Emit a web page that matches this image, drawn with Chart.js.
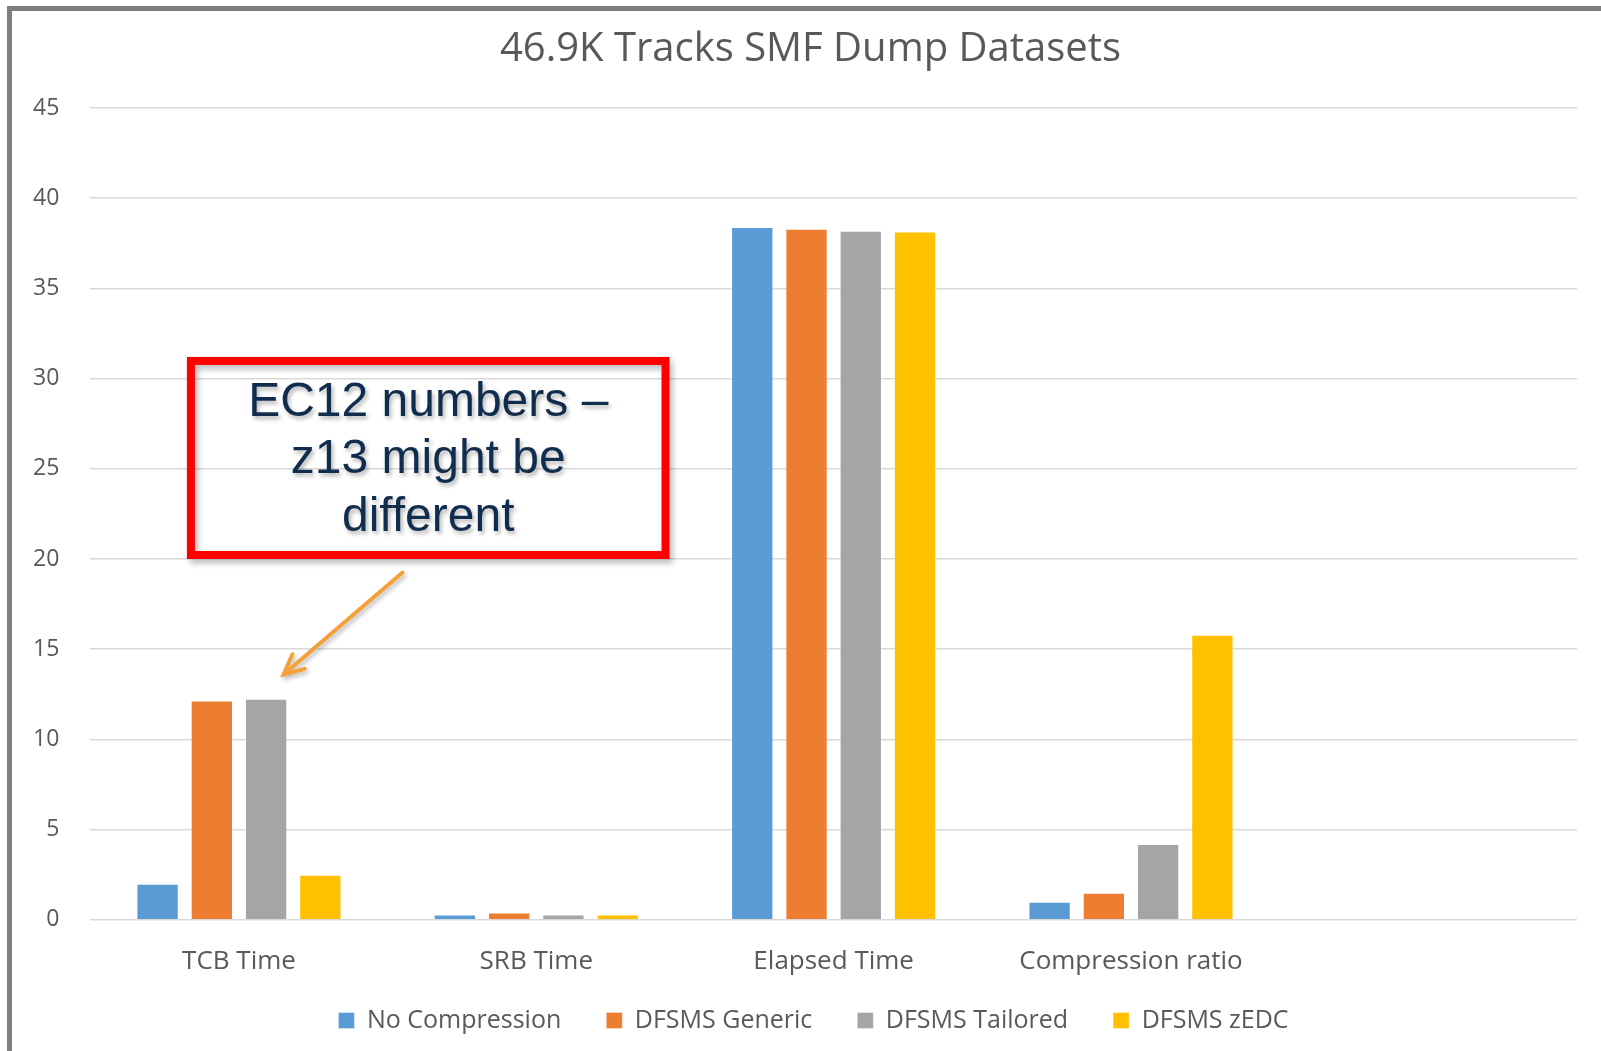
<!DOCTYPE html>
<html>
<head>
<meta charset="utf-8">
<script src="https://cdn.jsdelivr.net/npm/chart.js@4.4.1/dist/chart.umd.min.js"></script>
<style>
  html, body { margin: 0; padding: 0; background: #fff; }
  #wrap { position: relative; width: 1601px; height: 1051px; }
  #frame { position: absolute; left: 7px; top: 6px; right: 0; bottom: 0;
           border-left: 5px solid #7f7f7f; border-top: 5px solid #7f7f7f; pointer-events: none; }
</style>
</head>
<body>
<div id="wrap">
  <canvas id="chart" width="1601" height="1051"></canvas>
  <div id="frame"></div>
</div>
<script>
// categories (last one is an empty slot, like the source chart)
const categories = ['TCB Time', 'SRB Time', 'Elapsed Time', 'Compression ratio', ''];

// series values
const noCompression = [2.0, 0.3, 38.4, 1.0, null];
const dfsmsGeneric  = [12.15, 0.4, 38.3, 1.5, null];
const dfsmsTailored = [12.25, 0.3, 38.2, 4.2, null];
const dfsmsZedc     = [2.5, 0.3, 38.15, 15.8, null];

const seriesNames = ['No Compression', 'DFSMS Generic', 'DFSMS Tailored', 'DFSMS zEDC'];
const seriesColors = ['#5b9bd5', '#ed7d31', '#a5a5a5', '#ffc000'];

const noteLines = ['EC12 numbers \u2013', 'z13 might be', 'different'];

const textGray = '#595959';
const xLabelOverlap = 32;

// title and legend sit a little right of the canvas centre in the original;
// x labels overlap the legend's top padding, so give the axis its room back for drawing
const nudge = {
    id: 'nudge',
    afterLayout(chart) {
        if (chart.titleBlock) { chart.titleBlock.left += 21; chart.titleBlock.right += 21; }
        if (chart.legend) { chart.legend.left += 24; chart.legend.right += 24; }
        const xs = chart.scales.x;
        xs.bottom += xLabelOverlap;
        xs.height += xLabelOverlap;
    }
};

// draws the red note box + orange arrow, placed from the scales
const callout = {
    id: 'callout',
    afterDraw(chart) {
        const { ctx, scales: { x, y } } = chart;
        const step = x.getPixelForValue(1) - x.getPixelForValue(0);
        const px = v => x.getPixelForValue(0) + v * step;

        const left = px(-0.175), right = px(1.448);
        const top = y.getPixelForValue(31.2), bottom = y.getPixelForValue(20.0);

        ctx.save();
        // box with a soft shadow
        ctx.shadowColor = 'rgba(0,0,0,0.28)';
        ctx.shadowBlur = 6;
        ctx.shadowOffsetX = 3;
        ctx.shadowOffsetY = 4;
        ctx.strokeStyle = '#ff0000';
        ctx.lineWidth = 8;
        ctx.strokeRect(left + 4, top + 4, right - left - 8, bottom - top - 8);

        // text
        ctx.shadowColor = 'rgba(0,0,0,0.3)';
        ctx.shadowBlur = 4;
        ctx.shadowOffsetX = 2;
        ctx.shadowOffsetY = 3;
        ctx.fillStyle = '#112d4e';
        ctx.font = '48px "Liberation Sans", Arial, sans-serif';
        ctx.textAlign = 'center';
        ctx.textBaseline = 'alphabetic';
        const cx = (left + right) / 2;
        const baselines = [27.9, 24.75, 21.55];
        noteLines.forEach((t, i) => ctx.fillText(t, cx, y.getPixelForValue(baselines[i])));

        // arrow
        const x1 = px(0.55), y1 = y.getPixelForValue(19.25);
        const x2 = px(0.15), y2 = y.getPixelForValue(13.6);
        ctx.shadowColor = 'rgba(0,0,0,0.25)';
        ctx.shadowBlur = 4;
        ctx.shadowOffsetX = 2;
        ctx.shadowOffsetY = 3;
        ctx.strokeStyle = '#f4a13a';
        ctx.lineWidth = 4;
        ctx.lineCap = 'round';
        ctx.beginPath();
        ctx.moveTo(x1, y1);
        ctx.lineTo(x2, y2);
        const ang = Math.atan2(y2 - y1, x2 - x1);
        const head = 22;
        ctx.moveTo(x2 + head * Math.cos(ang + Math.PI - 0.45), y2 + head * Math.sin(ang + Math.PI - 0.45));
        ctx.lineTo(x2, y2);
        ctx.lineTo(x2 + head * Math.cos(ang + Math.PI + 0.45), y2 + head * Math.sin(ang + Math.PI + 0.45));
        ctx.stroke();
        ctx.restore();
    }
};

const seriesData = [noCompression, dfsmsGeneric, dfsmsTailored, dfsmsZedc];

new Chart(document.getElementById('chart'), {
    type: 'bar',
    data: {
        labels: categories,
        datasets: seriesData.map((d, i) => ({
            label: seriesNames[i],
            data: d,
            backgroundColor: seriesColors[i],
            borderColor: 'rgba(255,255,255,0.35)',
            borderWidth: 1,
            categoryPercentage: 0.73,
            barPercentage: 0.78
        }))
    },
    options: {
        responsive: false,
        animation: false,
        devicePixelRatio: 1,
        layout: { padding: { left: 2, right: 24, top: 16, bottom: 8 } },
        plugins: {
            title: {
                display: true,
                text: '46.9K Tracks SMF Dump Datasets',
                color: textGray,
                font: { family: '"Open Sans", sans-serif', size: 40, weight: 'normal' },
                padding: { top: 10, bottom: 34 }
            },
            legend: {
                position: 'bottom',
                labels: {
                    color: textGray,
                    font: { family: '"Open Sans", sans-serif', size: 25 },
                    boxWidth: 16,
                    boxHeight: 16,
                    padding: 45
                }
            },
            tooltip: { enabled: false }
        },
        scales: {
            x: {
                grid: { display: false },
                border: { display: false },
                ticks: {
                    color: textGray,
                    font: { family: '"Open Sans", sans-serif', size: 26 },
                    padding: 18,
                    maxRotation: 0,
                    autoSkip: false
                },
                afterFit(scale) { scale.height -= xLabelOverlap; }
            },
            y: {
                min: 0,
                max: 45,
                grid: { color: '#d9d9d9', lineWidth: 1.5, drawTicks: false },
                border: { display: false },
                ticks: {
                    stepSize: 5,
                    color: textGray,
                    font: { family: '"Open Sans", sans-serif', size: 23 },
                    padding: 31
                }
            }
        }
    },
    plugins: [nudge, callout]
});
</script>
</body>
</html>
